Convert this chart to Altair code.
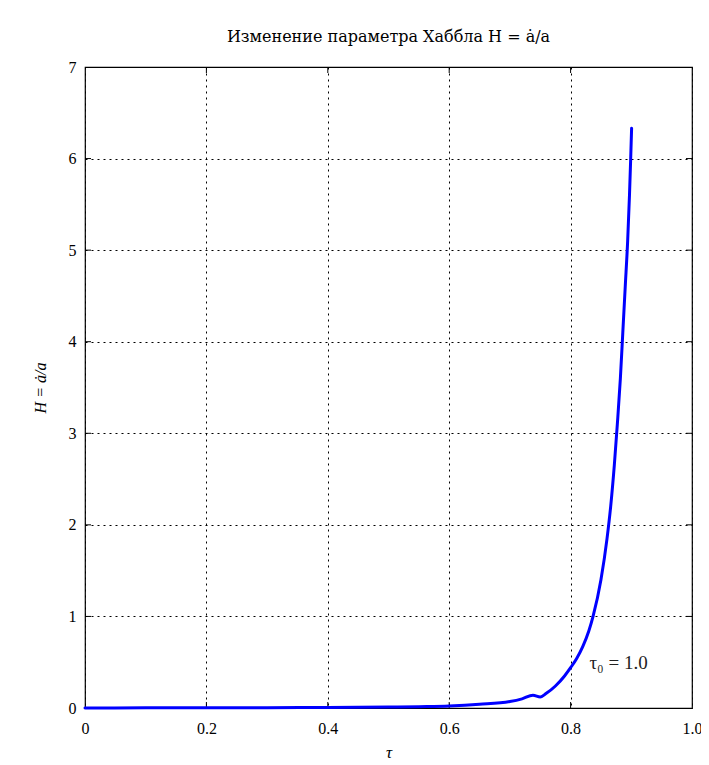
import altair as alt
import pandas as pd

# Curve H(tau)
tau = [0.0, 0.1, 0.2, 0.3, 0.4, 0.5, 0.55, 0.6, 0.65, 0.7, 0.72, 0.738, 0.75,
       0.76, 0.775, 0.79, 0.8, 0.81, 0.82, 0.83, 0.837, 0.85, 0.86, 0.866,
       0.872, 0.877, 0.882, 0.886, 0.890, 0.894, 0.897, 0.899, 0.9005]
H = [0.0, 0.002, 0.003, 0.004, 0.006, 0.01, 0.015, 0.022, 0.04, 0.07, 0.10,
     0.14, 0.12, 0.16, 0.24, 0.35, 0.44, 0.54, 0.67, 0.84, 1.0, 1.4, 1.85, 2.2,
     2.65, 3.1, 3.6, 4.1, 4.6, 5.1, 5.6, 6.0, 6.33]

x_tick_values = [0.0, 0.2, 0.4, 0.6, 0.8, 1.0]
y_tick_values = [0, 1, 2, 3, 4, 5, 6, 7]
x_inner_ticks = [0.2, 0.4, 0.6, 0.8]
y_inner_ticks = [1, 2, 3, 4, 5, 6]

label_tau = [0.831]
label_H = [0.49]
label_text = ["τ₀ = 1.0"]

title_text = "Изменение параметра Хаббла H = ȧ/a"
y_title = "H = ȧ/a"
x_title = "τ"

W, HT = 607, 641
FONT = "Liberation Serif"
TFONT = "DejaVu Serif"

curve = pd.DataFrame({"tau": tau, "H": H})
xt = pd.DataFrame({"tau": x_inner_ticks})
yt = pd.DataFrame({"H": y_inner_ticks})
lab = pd.DataFrame({"tau": label_tau, "H": label_H, "text": label_text})

xscale = alt.Scale(domain=[0, 1], nice=False, zero=False)
yscale = alt.Scale(domain=[0, 7], nice=False)

xaxis = alt.Axis(
    title=x_title, values=x_tick_values,
    labelExpr="datum.value == 0 ? '0' : format(datum.value, '.1f')",
    ticks=False, domain=False, grid=True, gridColor="black",
    gridDash=[2, 4], gridWidth=1, gridOpacity=1,
    labelFont=FONT, labelFontSize=16, labelColor="black", labelPadding=12,
    titleFont=FONT, titleFontSize=17, titleFontStyle="italic",
    titleFontWeight="normal", titleColor="black", titlePadding=8,
    labelFlush=False,
)
yaxis = alt.Axis(
    title=y_title, values=y_tick_values, format="d",
    ticks=False, domain=False, grid=True, gridColor="black",
    gridDash=[2, 4], gridWidth=1, gridOpacity=1,
    labelFont=FONT, labelFontSize=16, labelColor="black", labelPadding=9,
    titleFont=FONT, titleFontSize=16, titleFontStyle="italic",
    titleFontWeight="normal", titleColor="black", titlePadding=20,
    labelFlush=False,
)

X = lambda: alt.X("tau:Q", scale=xscale, axis=xaxis)
Y = lambda: alt.Y("H:Q", scale=yscale, axis=yaxis)

line = alt.Chart(curve).mark_line(
    color="#0000ff", strokeWidth=3, strokeCap="round", strokeJoin="round",
    interpolate="monotone"
).encode(x=X(), y=Y(), order="tau:Q")

tick_b = alt.Chart(xt).mark_rule(color="black", strokeWidth=1).encode(
    x=X(), y=alt.value(HT - 6), y2=alt.value(HT))
tick_t = alt.Chart(xt).mark_rule(color="black", strokeWidth=1).encode(
    x=X(), y=alt.value(0), y2=alt.value(6))
tick_l = alt.Chart(yt).mark_rule(color="black", strokeWidth=1).encode(
    y=Y(), x=alt.value(0), x2=alt.value(6))
tick_r = alt.Chart(yt).mark_rule(color="black", strokeWidth=1).encode(
    y=Y(), x=alt.value(W - 6), x2=alt.value(W))

text = alt.Chart(lab).mark_text(
    font=FONT, fontSize=19, align="left", baseline="middle", color="#222"
).encode(x=X(), y=Y(), text="text:N")

chart = alt.layer(tick_b, tick_t, tick_l, tick_r, line, text).properties(
    width=W, height=HT,
    title=alt.TitleParams(title_text, font=TFONT, fontSize=16,
                          fontWeight="normal", color="black", offset=14,
                          anchor="middle"),
    autosize=alt.AutoSizeParams(type="none"),
    padding={"left": 77, "top": 59, "right": 9, "bottom": 56},
).configure_view(stroke="black", strokeWidth=1.2)

chart.save("out.html", embed_options={"renderer": "svg", "actions": False})
